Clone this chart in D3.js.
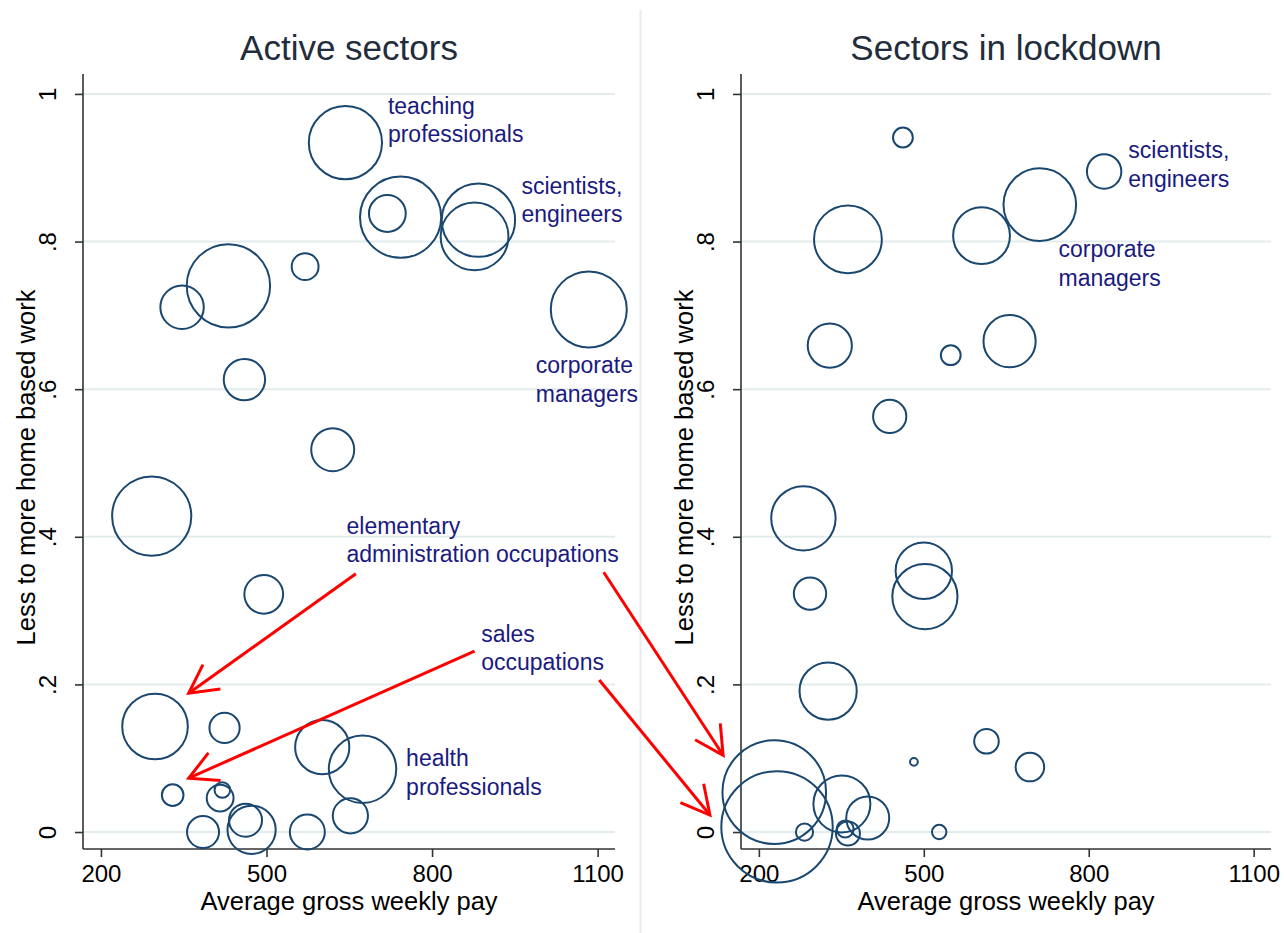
<!DOCTYPE html>
<html><head><meta charset="utf-8">
<script src="https://cdn.jsdelivr.net/npm/d3@7"></script>
<style>body{margin:0;background:#fff}svg{display:block}</style>
</head><body>
<svg id="c" width="1284" height="933"></svg>
<script>
// ---------- data ----------
const panelTitles = ["Active sectors", "Sectors in lockdown"];
const xTicks = [200, 500, 800, 1100];
const yTicks = [0, 0.2, 0.4, 0.6, 0.8, 1];
const yTickLabels = ["0", ".2", ".4", ".6", ".8", "1"];
const xTitle = "Average gross weekly pay";
const yTitle = "Less to more home based work";

// Active sectors: pay, home-work index, employment (bubble weight)
const activePay  = [643, 743, 719, 884, 877, 431, 347, 570, 1084, 460, 620, 292, 495, 298, 424, 601, 674, 330, 416, 420, 652, 385, 462, 473, 574];
const activeHome = [0.934, 0.833, 0.838, 0.829, 0.807, 0.740, 0.711, 0.766, 0.708, 0.613, 0.518, 0.428, 0.322, 0.143, 0.141, 0.115, 0.085, 0.050, 0.046, 0.057, 0.022, 0.000, 0.016, 0.003, 0.000];
const activeEmp  = [1340, 1648, 339, 1347, 1149, 1739, 471, 180, 1444, 428, 462, 1568, 376, 1076, 228, 734, 1136, 117, 180, 61, 310, 256, 272, 581, 306];

// Sectors in lockdown
const lockPay  = [462, 828, 711, 362, 605, 329, 549, 656, 438, 281, 293, 500, 502, 326, 614, 693, 482, 228, 233, 351, 398, 283, 357, 362, 528];
const lockHome = [0.941, 0.895, 0.850, 0.803, 0.808, 0.659, 0.646, 0.665, 0.563, 0.425, 0.323, 0.354, 0.319, 0.191, 0.123, 0.088, 0.095, 0.054, 0.007, 0.038, 0.019, 0.000, 0.004, -0.002, 0.000];
const lockEmp  = [98, 296, 1318, 1149, 807, 488, 98, 681, 276, 1037, 262, 795, 1063, 818, 151, 204, 15, 2683, 3102, 812, 462, 74, 72, 144, 52];

// annotation labels: panel, pay, home (first-line anchor), lines
const labelPanel = [0, 0, 0, 0, 0, 0, 1, 1];
const labelPay   = [720, 962, 988, 645, 889, 753, 872, 745];
const labelHome  = [0.973, 0.865, 0.6215, 0.404, 0.2575, 0.0893, 0.913, 0.779];
const labelLines = [["teaching","professionals"],["scientists,","engineers"],["corporate","managers"],
                    ["elementary","administration occupations"],["sales","occupations"],["health","professionals"],
                    ["scientists,","engineers"],["corporate","managers"]];

// arrows: start (panel, pay, home) -> tip (panel, pay, home)
const arrowFromPanel = [0, 0, 0, 0];
const arrowFromPay   = [662, 877, 1111, 1103];
const arrowFromHome  = [0.350, 0.245, 0.352, 0.206];
const arrowToPanel   = [0, 0, 1, 1];
const arrowToPay     = [359, 359, 135, 111];
const arrowToHome    = [0.188, 0.073, 0.104, 0.023];

// ---------- layout ----------
const svg = d3.select("#c");
const font = "'Liberation Sans', Arial, sans-serif";
const panels = [{left: 83, right: 615}, {left: 741, right: 1271}];
const plotTop = 74, plotBottom = 849;
const xDomain = [167.5, 1131.5], yDomain = [-0.023, 1.027];
const xs = panels.map(p => d3.scaleLinear().domain(xDomain).range([p.left, p.right]));
const ys = d3.scaleLinear().domain(yDomain).range([plotBottom, plotTop]);
const rScale = d3.scaleSqrt().domain([0, 3100]).range([0, Math.sqrt(3100)]);

// separator between the two graphs
svg.append("line").attr("x1", 640.5).attr("x2", 640.5).attr("y1", 10).attr("y2", 933)
  .attr("stroke", "#e6ecef").attr("stroke-width", 2);

const datasets = [
  {pay: activePay, home: activeHome, emp: activeEmp},
  {pay: lockPay, home: lockHome, emp: lockEmp}
];

panels.forEach((p, i) => {
  const g = svg.append("g");
  const x = xs[i];
  // gridlines
  g.selectAll(".grid").data(yTicks).join("line")
    .attr("x1", p.left).attr("x2", p.right)
    .attr("y1", d => ys(d)).attr("y2", d => ys(d))
    .attr("stroke", "#e3eced").attr("stroke-width", 2);
  // y axis
  const yAxis = d3.axisLeft(ys).tickValues(yTicks).tickSize(8).tickFormat((d, j) => yTickLabels[j]);
  const ya = g.append("g").attr("transform", `translate(${p.left},0)`).call(yAxis);
  ya.select(".domain").attr("d", `M-0,${plotTop}V${plotBottom}`).attr("stroke", "#333").attr("stroke-width", 1.6);
  ya.selectAll(".tick line").attr("stroke", "#333").attr("stroke-width", 1.6);
  ya.selectAll(".tick text").attr("transform", "rotate(-90)")
    .attr("x", 0).attr("y", -27).attr("dy", 0).attr("text-anchor", "middle")
    .style("font-family", font).style("font-size", "24px").attr("fill", "#000");
  // x axis
  const xAxis = d3.axisBottom(x).tickValues(xTicks).tickSize(8).tickFormat(d3.format("d"));
  const xa = g.append("g").attr("transform", `translate(0,${plotBottom})`).call(xAxis);
  xa.select(".domain").attr("d", `M${p.left},0H${p.right}`).attr("stroke", "#333").attr("stroke-width", 1.6);
  xa.selectAll(".tick line").attr("stroke", "#333").attr("stroke-width", 1.6);
  xa.selectAll(".tick text").attr("y", 33).attr("dy", 0)
    .style("font-family", font).style("font-size", "24px").attr("fill", "#000");
  // axis titles
  g.append("text").attr("x", (p.left + p.right) / 2).attr("y", 910).attr("text-anchor", "middle")
    .style("font-family", font).style("font-size", "25.5px").attr("fill", "#000").text(xTitle);
  g.append("text").attr("transform", `translate(${p.left - 48},${(plotTop + plotBottom) / 2 + 6}) rotate(-90)`)
    .attr("text-anchor", "middle")
    .style("font-family", font).style("font-size", "25.5px").attr("fill", "#000").text(yTitle);
  // panel title
  g.append("text").attr("x", (p.left + p.right) / 2).attr("y", 60).attr("text-anchor", "middle")
    .style("font-family", font).style("font-size", "35px").attr("fill", "#1f2d3d").text(panelTitles[i]);
  // bubbles
  const ds = datasets[i];
  g.selectAll(".b").data(ds.pay.map((v, k) => k)).join("circle")
    .attr("cx", k => x(ds.pay[k])).attr("cy", k => ys(ds.home[k])).attr("r", k => rScale(ds.emp[k]))
    .attr("fill", "none").attr("stroke", "#1a476f").attr("stroke-width", 2);
});

// labels
labelLines.forEach((lines, k) => {
  const x = xs[labelPanel[k]];
  const t = svg.append("text").attr("x", x(labelPay[k])).attr("y", ys(labelHome[k]))
    .style("font-family", font).style("font-size", "23px").attr("fill", "#1a1a80");
  lines.forEach((ln, j) => t.append("tspan").attr("x", x(labelPay[k])).attr("dy", j === 0 ? 0 : 28.5).text(ln));
});

// arrows
arrowToPay.forEach((_, k) => {
  const x0 = xs[arrowFromPanel[k]](arrowFromPay[k]), y0 = ys(arrowFromHome[k]);
  const x1 = xs[arrowToPanel[k]](arrowToPay[k]), y1 = ys(arrowToHome[k]);
  const ang = Math.atan2(y0 - y1, x0 - x1), L = 32, h = 28 * Math.PI / 180;
  const g = svg.append("g").attr("stroke", "#ff0000").attr("stroke-width", 3).attr("fill", "none").attr("stroke-linecap", "butt");
  g.append("line").attr("x1", x0).attr("y1", y0).attr("x2", x1).attr("y2", y1);
  g.append("path").attr("d", `M${x1 + L * Math.cos(ang - h)},${y1 + L * Math.sin(ang - h)}L${x1},${y1}L${x1 + L * Math.cos(ang + h)},${y1 + L * Math.sin(ang + h)}`);
});
</script>
</body></html>
